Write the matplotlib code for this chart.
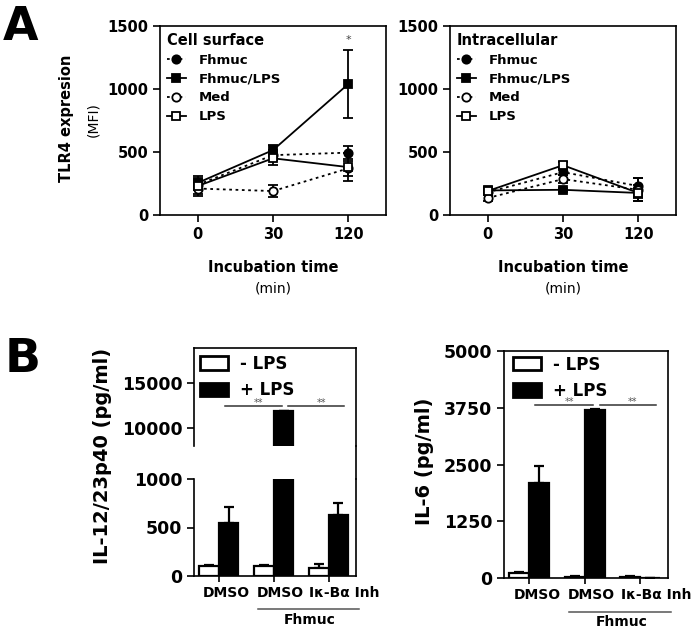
import numpy as np
import matplotlib
matplotlib.use("Agg")
import matplotlib.pyplot as plt
from matplotlib.patches import Patch
from matplotlib.lines import Line2D
import matplotlib.transforms as mtransforms

plt.rcParams['font.family'] = ['DejaVu Sans']
plt.rcParams['font.weight'] = 'bold'
plt.rcParams['axes.linewidth'] = 1.2

# ---- panel A data (TLR4 expression, MFI) ----
times = ['0', '30', '120']
series_names = ['Fhmuc', 'Fhmuc/LPS', 'Med', 'LPS']

surf_fhmuc = [240, 475, 495]
surf_fhmuc_err = [40, 40, 50]
surf_fhmuc_lps = [255, 515, 1040]
surf_fhmuc_lps_err = [40, 40, 270]
surf_med = [210, 190, 370]
surf_med_err = [40, 50, 60]
surf_lps = [230, 450, 380]
surf_lps_err = [80, 50, 110]

intra_fhmuc = [180, 340, 230]
intra_fhmuc_err = [20, 20, 60]
intra_fhmuc_lps = [195, 200, 175]
intra_fhmuc_lps_err = [20, 15, 40]
intra_med = [135, 285, 200]
intra_med_err = [20, 30, 90]
intra_lps = [190, 395, 175]
intra_lps_err = [25, 25, 60]

# ---- panel B data (cytokines, pg/ml) ----
treatments = ['DMSO', 'DMSO', 'I\u03ba-B\u03b1 Inh']
il12_minus = [100, 100, 80]
il12_minus_err = [10, 10, 45]
il12_plus = [550, 11900, 630]
il12_plus_err = [160, 0, 120]

il6_minus = [100, 30, 30]
il6_minus_err = [30, 10, 10]
il6_plus = [2090, 3700, 0]
il6_plus_err = [370, 30, 0]

styles = [
    dict(ls=(0, (1.5, 2)), marker='o', mfc='black'),
    dict(ls='-', marker='s', mfc='black'),
    dict(ls=(0, (1.5, 2)), marker='o', mfc='white'),
    dict(ls='-', marker='s', mfc='white'),
]

fig = plt.figure(figsize=(6.97, 6.29), dpi=100)
W, H = 697.0, 629.0


def px_axes(x0, y0, x1, y1):
    return fig.add_axes([x0 / W, 1 - y1 / H, (x1 - x0) / W, (y1 - y0) / H])


def line_panel(ax, data, errs, title):
    x = np.arange(len(times))
    handles = []
    for vals, err, st, name in zip(data, errs, styles, series_names):
        ax.errorbar(x, vals, yerr=err, fmt='none', ecolor='black',
                    elinewidth=1.3, capsize=3.5, capthick=1.3, zorder=2)
        h, = ax.plot(x, vals, color='black', lw=1.3, ls=st['ls'],
                     marker=st['marker'], mfc=st['mfc'], mec='black',
                     mew=1.3, ms=6, label=name, zorder=3)
        handles.append(h)
    ax.set_xlim(-0.5, 2.5)
    ax.set_ylim(0, 1500)
    ax.set_yticks([0, 500, 1000, 1500])
    ax.set_xticks(x)
    ax.set_xticklabels(times)
    ax.tick_params(direction='out', length=5, width=1.2, labelsize=10.5)
    leg = ax.legend(handles=handles, loc='upper left', frameon=False,
                    title=title, fontsize=9.5, handlelength=1.5,
                    handletextpad=0.9, labelspacing=0.45,
                    borderaxespad=0.3, borderpad=0.2,
                    bbox_to_anchor=(0.0, 1.0), alignment='left')
    leg.get_title().set_fontsize(10.5)
    leg.get_title().set_fontweight('bold')
    pos = ax.get_position()
    xc = (pos.x0 + pos.x1) / 2
    fig.text(xc, 1 - 268 / H, 'Incubation time', ha='center', va='center',
             fontsize=10.5, fontweight='bold')
    fig.text(xc, 1 - 288 / H, '(min)', ha='center', va='center',
             fontsize=10, fontweight='normal')


axA1 = px_axes(160, 26, 386, 215)
line_panel(axA1, [surf_fhmuc, surf_fhmuc_lps, surf_med, surf_lps],
           [surf_fhmuc_err, surf_fhmuc_lps_err, surf_med_err, surf_lps_err],
           'Cell surface')
axA1.text(2, 1390, '*', ha='center', va='center', fontsize=8, color='#444444',
          fontweight='normal')

axA2 = px_axes(450, 26, 676, 215)
line_panel(axA2, [intra_fhmuc, intra_fhmuc_lps, intra_med, intra_lps],
           [intra_fhmuc_err, intra_fhmuc_lps_err, intra_med_err, intra_lps_err],
           'Intracellular')

fig.text(67 / W, 1 - 118 / H, 'TLR4 expresion', rotation=90, ha='center',
         va='center', fontsize=10.5, fontweight='bold')
fig.text(93 / W, 1 - 120 / H, '(MFI)', rotation=90, ha='center',
         va='center', fontsize=10, fontweight='normal')
fig.text(3 / W, 1 - 40 / H, 'A', fontsize=33, fontweight='bold', va='baseline')
fig.text(5 / W, 1 - 372 / H, 'B', fontsize=34, fontweight='bold', va='baseline')

# ---- panel B ----
bw = 0.36
label_offsets_px = [8, 7, 16]


def bars(ax, minus, minus_err, plus, plus_err):
    x = np.arange(len(treatments))
    ax.bar(x - bw / 2, minus, bw, color='white', edgecolor='black', lw=1.6,
           label='- LPS', zorder=2)
    ax.bar(x + bw / 2, plus, bw, color='black', edgecolor='black', lw=1.6,
           label='+ LPS', zorder=2)
    ax.errorbar(x - bw / 2, minus, yerr=[np.zeros(3), minus_err], fmt='none',
                ecolor='black', elinewidth=1.6, capsize=3.5, capthick=1.6, zorder=1)
    ax.errorbar(x + bw / 2, plus, yerr=[np.zeros(3), plus_err], fmt='none',
                ecolor='black', elinewidth=1.6, capsize=3.5, capthick=1.6, zorder=1)
    ax.set_xlim(-0.45, 2.5)


def bar_xaxis(ax, line_y, text_y):
    x = np.arange(len(treatments))
    ax.set_xticks(x)
    ax.set_xticklabels(treatments)
    ax.tick_params(axis='x', direction='out', length=4, width=1.2,
                   labelsize=10, pad=3)
    for lab, off in zip(ax.get_xticklabels(), label_offsets_px):
        lab.set_transform(lab.get_transform() +
                          mtransforms.ScaledTranslation(off / 100, 0, fig.dpi_scale_trans))
    tr = mtransforms.blended_transform_factory(ax.transData, ax.transAxes)
    ax.add_line(Line2D([0.72, 2.55], [line_y, line_y], transform=tr,
                       color='#555555', lw=1.1, clip_on=False))
    ax.text(1.66, text_y, 'Fhmuc', transform=tr, ha='center', va='center',
            fontsize=10, fontweight='bold')


def sig(ax, y):
    for x0, x1, xs in [(0.11, 1.15, 0.72), (1.27, 2.29, 1.87)]:
        ax.plot([x0, x1], [y, y], color='#333333', lw=1.1, zorder=3)
        ax.text(xs, y, '**', ha='center', va='baseline', fontsize=7,
                color='#555555', fontweight='normal')


def bar_legend(ax, anchor):
    hs = [Patch(facecolor='white', edgecolor='black', lw=2, label='- LPS'),
          Patch(facecolor='black', edgecolor='black', lw=2, label='+ LPS')]
    ax.legend(handles=hs, loc='upper left', bbox_to_anchor=anchor,
              frameon=False, fontsize=12, handlelength=1.7, handleheight=0.85,
              handletextpad=0.7, labelspacing=0.5, borderpad=0, borderaxespad=0)


# IL-12/23p40 with broken axis
axB1u = px_axes(194, 348, 356, 446)
axB1l = px_axes(194, 479, 356, 576)
for ax in (axB1u, axB1l):
    bars(ax, il12_minus, il12_minus_err, il12_plus, il12_plus_err)
    ax.tick_params(axis='y', direction='out', length=5, width=1.2, labelsize=12.5)
axB1u.set_ylim(8000, 18900)
axB1u.set_yticks([10000, 15000])
axB1u.spines['bottom'].set_visible(False)
axB1u.tick_params(axis='x', bottom=False, labelbottom=False)
axB1l.set_ylim(0, 1000)
axB1l.set_yticks([0, 500, 1000])
axB1l.spines['top'].set_visible(False)
bar_xaxis(axB1l, -0.34, -0.45)
sig(axB1u, 12480)
bar_legend(axB1u, (0.037, 0.93))
pu, pl = axB1u.get_position(), axB1l.get_position()
fig.add_artist(Line2D([pu.x1, pu.x1], [pl.y1, pu.y0], transform=fig.transFigure,
                      color='black', lw=1.2))
fig.text(103 / W, 1 - 456 / H, 'IL-12/23p40 (pg/ml)', rotation=90,
         ha='center', va='center', fontsize=14, fontweight='bold')

# IL-6
axB2 = px_axes(504, 351, 668, 578)
bars(axB2, il6_minus, il6_minus_err, il6_plus, il6_plus_err)
axB2.set_ylim(0, 5000)
axB2.set_yticks([0, 1250, 2500, 3750, 5000])
axB2.tick_params(axis='y', direction='out', length=5, width=1.2, labelsize=12.5)
bar_xaxis(axB2, -0.15, -0.195)
sig(axB2, 3800)
bar_legend(axB2, (0.055, 0.98))
fig.text(425 / W, 1 - 461 / H, 'IL-6 (pg/ml)', rotation=90,
         ha='center', va='center', fontsize=14, fontweight='bold')

fig.savefig('out.png', dpi=100)
